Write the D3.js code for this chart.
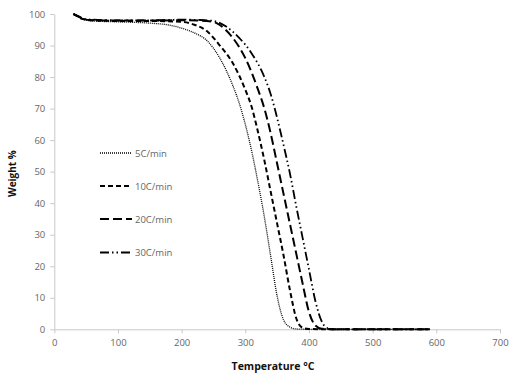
<!DOCTYPE html>
<html>
<head>
<meta charset="utf-8">
<script src="https://cdn.jsdelivr.net/npm/d3@7"></script>
<style>
  html, body { margin: 0; padding: 0; background: #fff; }
  svg { display: block; }
</style>
</head>
<body>
<svg id="chart" width="509" height="375"></svg>
<script>
// ---- data ----
const seriesNames = ["5C/min", "10C/min", "20C/min", "30C/min"];

const temp5 = [30, 35, 45, 60, 100, 150, 180, 200, 220, 240, 260, 280, 290, 300, 310, 320, 330, 340, 350, 360, 370, 380, 400, 450, 500, 590];
const wt5   = [100, 99.4, 98.3, 97.8, 97.5, 97.1, 96.5, 95.5, 94, 91.5, 86, 77.5, 72, 65, 56.5, 46.5, 35.5, 23, 10.5, 3, 0.7, 0.1, 0, 0, 0, 0];

const temp10 = [30, 35, 45, 60, 100, 150, 200, 220, 240, 260, 280, 300, 310, 320, 330, 340, 350, 360, 370, 380, 390, 400, 450, 500, 590];
const wt10   = [100, 99.4, 98.4, 98, 97.8, 97.8, 97.5, 96.6, 94.5, 90, 84.5, 76, 70.5, 62.5, 53.5, 43.5, 33.5, 23.5, 12.5, 3.5, 0.5, 0.1, 0, 0, 0];

const temp20 = [30, 35, 45, 60, 100, 150, 200, 230, 250, 260, 280, 300, 320, 330, 340, 350, 360, 370, 380, 390, 400, 410, 420, 450, 500, 590];
const wt20   = [100, 99.5, 98.5, 98, 97.9, 97.9, 98, 97.9, 97.5, 96.5, 92.5, 86, 76, 70, 62, 52.5, 43, 33.5, 24, 14.5, 5.5, 1.2, 0.2, 0, 0, 0];

const temp30 = [30, 35, 45, 60, 100, 150, 200, 230, 250, 270, 290, 310, 330, 340, 350, 360, 370, 380, 390, 400, 410, 420, 430, 440, 500, 590];
const wt30   = [100, 99.6, 98.6, 98.2, 98, 98, 98.2, 98.1, 97.8, 96, 92.5, 87.5, 80, 74.5, 67, 58.5, 49.5, 39, 29, 19, 9, 2.5, 0.3, 0, 0, 0];

const xTicks = [0, 100, 200, 300, 400, 500, 600, 700];
const yTicks = [0, 10, 20, 30, 40, 50, 60, 70, 80, 90, 100];
const xTitle = "Temperature \u00B0C";
const yTitle = "Weight %";

// ---- layout ----
const svg = d3.select("#chart");
const mLeft = 54.3, mRight = 500, mTop = 14, mBottom = 329.3;

const x = d3.scaleLinear().domain([0, 700]).range([mLeft, mRight]);
const y = d3.scaleLinear().domain([0, 100]).range([mBottom, mTop]);

const axisColor = "#c8c8c8";
const labelColor = "#666";
const font = "'Open Sans', 'Liberation Sans', sans-serif";

// x axis
const gx = svg.append("g").attr("transform", `translate(0,${mBottom})`)
  .call(d3.axisBottom(x).tickValues(xTicks).tickSize(4).tickSizeOuter(0).tickPadding(6));
// y axis
const gy = svg.append("g").attr("transform", `translate(${mLeft},0)`)
  .call(d3.axisLeft(y).tickValues(yTicks).tickSize(4).tickSizeOuter(0).tickPadding(5));

[gx, gy].forEach(g => {
  g.select(".domain").attr("stroke", axisColor).attr("stroke-width", 1);
  g.selectAll(".tick line").attr("stroke", axisColor);
  g.selectAll(".tick text").attr("fill", labelColor)
    .style("font-family", font).style("font-size", "9.5px");
});

// titles
svg.append("text")
  .attr("x", 273).attr("y", 370)
  .attr("text-anchor", "middle")
  .style("font-family", font).style("font-size", "10.5px").style("font-weight", "bold")
  .attr("fill", "#111")
  .text(xTitle);
svg.append("text")
  .attr("transform", `translate(16,${(mTop + mBottom) / 2 + 2}) rotate(-90)`)
  .attr("text-anchor", "middle")
  .style("font-family", font).style("font-size", "10px").style("font-weight", "bold")
  .attr("fill", "#111")
  .text(yTitle);

// series
const series = [
  { name: seriesNames[0], t: temp5, w: wt5 },
  { name: seriesNames[1], t: temp10, w: wt10 },
  { name: seriesNames[2], t: temp20, w: wt20 },
  { name: seriesNames[3], t: temp30, w: wt30 }
];
const styles = [
  { dash: "1,1", width: 1.3 },
  { dash: "5,3", width: 2 },
  { dash: "9,4", width: 2 },
  { dash: "9,3,1.5,3,1.5,3", width: 1.8 }
];

const line = d3.line()
  .x(d => x(d[0])).y(d => y(d[1]))
  .curve(d3.curveMonotoneX);

series.forEach((s, i) => {
  const pts = s.t.map((t, j) => [t, s.w[j]]);
  svg.append("path")
    .datum(pts)
    .attr("d", line)
    .attr("fill", "none")
    .attr("stroke", "#000")
    .attr("stroke-width", styles[i].width)
    .attr("stroke-dasharray", styles[i].dash);
});

// legend
const legY = [153, 186, 219, 252.5];
series.forEach((s, i) => {
  const g = svg.append("g").attr("transform", `translate(100,${legY[i]})`);
  g.append("line")
    .attr("x1", 0).attr("x2", 32).attr("y1", 0).attr("y2", 0)
    .attr("stroke", "#000")
    .attr("stroke-width", styles[i].width)
    .attr("stroke-dasharray", styles[i].dash);
  g.append("text")
    .attr("x", 35).attr("y", 3.5)
    .attr("fill", labelColor)
    .style("font-family", font).style("font-size", "9.5px")
    .text(s.name);
});
</script>
</body>
</html>
